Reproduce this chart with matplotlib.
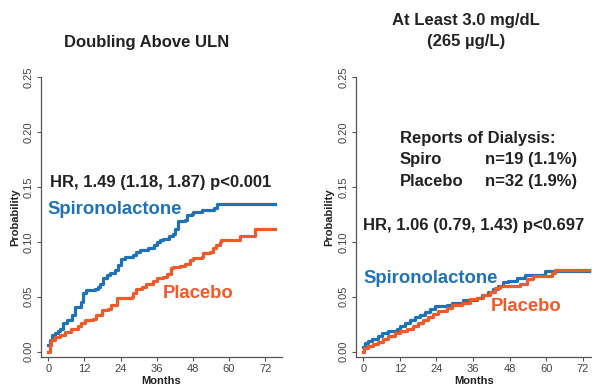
import matplotlib
matplotlib.use("Agg")
import matplotlib.pyplot as plt

plt.rcParams['font.family'] = ['Liberation Sans', 'DejaVu Sans']

BLUE = '#1f72b8'
ORANGE = '#f05a28'
DARK = '#222222'

# ---- Data: left panel (Doubling Above ULN) ----
left_spiro_t = [0, 0.5, 1.1, 2.2, 3.3, 3.9, 5.0, 6.1, 8.0, 8.8, 11.0, 11.6, 12.7, 15.5, 16.6, 17.1, 18.2, 19.4, 20.5, 22.0, 23.0, 24.0, 25.4, 28.0, 29.3, 30.4, 33.0, 35.0, 36.0, 37.0, 38.0, 40.0, 41.5, 42.0, 43.0, 45.4, 46.0, 47.6, 48.0, 51.0, 55.0, 56.0, 75.2]
left_spiro_p = [0.006, 0.0106, 0.015, 0.017, 0.019, 0.021, 0.026, 0.029, 0.033, 0.041, 0.045, 0.053, 0.056, 0.057, 0.059, 0.062, 0.067, 0.070, 0.072, 0.074, 0.079, 0.084, 0.0865, 0.088, 0.091, 0.093, 0.094, 0.097, 0.100, 0.102, 0.103, 0.105, 0.107, 0.112, 0.119, 0.120, 0.124, 0.125, 0.1275, 0.129, 0.1305, 0.1345, 0.1345]
left_plac_t = [0, 0.5, 1.0, 2.2, 3.9, 5.5, 7.7, 10.0, 11.0, 12.2, 15.0, 16.0, 17.7, 20.0, 21.0, 22.7, 27.7, 28.2, 29.3, 31.0, 32.6, 34.8, 36.0, 38.0, 39.3, 40.6, 41.5, 43.7, 45.4, 47.0, 48.0, 51.0, 51.4, 53.6, 54.8, 55.8, 57.0, 57.5, 63.6, 68.6, 75.2]
left_plac_p = [0.0, 0.006, 0.011, 0.013, 0.015, 0.018, 0.021, 0.023, 0.026, 0.029, 0.030, 0.033, 0.038, 0.039, 0.0425, 0.0485, 0.0495, 0.053, 0.057, 0.059, 0.062, 0.064, 0.067, 0.068, 0.071, 0.076, 0.0775, 0.078, 0.080, 0.0835, 0.085, 0.0865, 0.0895, 0.091, 0.094, 0.097, 0.100, 0.1017, 0.105, 0.1115, 0.1115]

# ---- Data: right panel (At Least 3.0 mg/dL) ----
right_spiro_t = [0, 0.5, 1.6, 2.7, 4.9, 6.0, 8.2, 11.0, 12.0, 13.7, 15.3, 17.0, 18.6, 20.2, 21.9, 23.5, 27.4, 29.0, 32.8, 37.2, 38.8, 41.0, 42.7, 44.3, 45.9, 47.6, 50.3, 53.0, 59.6, 74.2]
right_spiro_p = [0.004, 0.0076, 0.010, 0.012, 0.014, 0.0167, 0.019, 0.021, 0.023, 0.026, 0.029, 0.032, 0.033, 0.036, 0.039, 0.0415, 0.0425, 0.0446, 0.047, 0.0485, 0.0516, 0.0546, 0.057, 0.060, 0.063, 0.0646, 0.067, 0.070, 0.073, 0.073]
right_plac_t = [0, 0.3, 1.6, 3.3, 4.9, 6.6, 8.2, 10.4, 12.0, 14.2, 16.4, 18.0, 19.7, 21.3, 23.0, 24.6, 27.4, 29.0, 32.3, 35.0, 37.2, 39.4, 41.6, 43.2, 44.9, 51.4, 53.6, 55.8, 61.8, 62.9, 74.2]
right_plac_p = [0.0, 0.003, 0.005, 0.007, 0.009, 0.012, 0.014, 0.0167, 0.019, 0.021, 0.023, 0.026, 0.029, 0.032, 0.034, 0.037, 0.040, 0.0425, 0.0446, 0.0476, 0.049, 0.0516, 0.0546, 0.0576, 0.060, 0.062, 0.066, 0.069, 0.072, 0.0743, 0.0743]

x_ticks = [0, 12, 24, 36, 48, 60, 72]
y_ticks = [0.00, 0.05, 0.10, 0.15, 0.20, 0.25]
y_ticklabels = ['0.00', '0.05', '0.10', '0.15', '0.20', '0.25']

W, H = 592, 389
fig = plt.figure(figsize=(W / 100, H / 100), dpi=100)


def px_axes(x0, y_top, x1, y_bot):
    return [x0 / W, 1 - y_bot / H, (x1 - x0) / W, (y_bot - y_top) / H]


def style(ax, xlim):
    ax.set_xlim(*xlim)
    ax.set_ylim(-0.0051, 0.25)
    for s in ['top', 'right']:
        ax.spines[s].set_visible(False)
    for s in ['left', 'bottom']:
        ax.spines[s].set_color('#555555')
        ax.spines[s].set_linewidth(0.9)
    ax.set_xticks(x_ticks)
    ax.set_yticks(y_ticks)
    ax.set_yticklabels(y_ticklabels, rotation=90, va='center')
    ax.tick_params(axis='both', direction='out', length=3, width=0.8,
                   colors='#555555', labelcolor='#444444', labelsize=8, pad=2)
    ax.set_xlabel('Months', fontsize=8, fontweight='bold', color=DARK, labelpad=1)
    ax.set_ylabel('Probability', fontsize=8, fontweight='bold', color=DARK, labelpad=3)
    ax.patch.set_alpha(0)


# Left panel
ax1 = fig.add_axes(px_axes(41, 77, 281.7, 357.3))
style(ax1, (-2.4, 77.5))
ax1.step(left_spiro_t, left_spiro_p, where='post', color=BLUE, lw=2.3)
ax1.step(left_plac_t, left_plac_p, where='post', color=ORANGE, lw=2.3)
ax1.text(0.6, 0.154, 'HR, 1.49 (1.18, 1.87) p<0.001', fontsize=12, fontweight='bold',
         color=DARK, va='center', ha='left')
ax1.text(-0.1, 0.129, 'Spironolactone', fontsize=13.3, fontweight='bold',
         color=BLUE, va='center', ha='left')
ax1.text(38.1, 0.0526, 'Placebo', fontsize=13.3, fontweight='bold',
         color=ORANGE, va='center', ha='left')

# Right panel
ax2 = fig.add_axes(px_axes(355.7, 77, 592, 357.3))
style(ax2, (-2.5, 75.06))
ax2.step(right_spiro_t, right_spiro_p, where='post', color=BLUE, lw=2.3)
ax2.step(right_plac_t, right_plac_p, where='post', color=ORANGE, lw=2.3)
ax2.text(12.0, 0.1936, 'Reports of Dialysis:', fontsize=12, fontweight='bold',
         color=DARK, va='center', ha='left')
ax2.text(12.0, 0.1745, 'Spiro', fontsize=12, fontweight='bold',
         color=DARK, va='center', ha='left')
ax2.text(39.9, 0.1745, 'n=19 (1.1%)', fontsize=12, fontweight='bold',
         color=DARK, va='center', ha='left')
ax2.text(12.0, 0.1547, 'Placebo', fontsize=12, fontweight='bold',
         color=DARK, va='center', ha='left')
ax2.text(39.9, 0.1547, 'n=32 (1.9%)', fontsize=12, fontweight='bold',
         color=DARK, va='center', ha='left')
ax2.text(-0.2, 0.1147, 'HR, 1.06 (0.79, 1.43) p<0.697', fontsize=12, fontweight='bold',
         color=DARK, va='center', ha='left')
ax2.text(0.0, 0.067, 'Spironolactone', fontsize=13.3, fontweight='bold',
         color=BLUE, va='center', ha='left')
ax2.text(41.8, 0.041, 'Placebo', fontsize=13.3, fontweight='bold',
         color=ORANGE, va='center', ha='left')

# Titles
fig.text(146.7 / W, 1 - 43 / H, 'Doubling Above ULN', fontsize=12, fontweight='bold',
         color=DARK, ha='center', va='center')
fig.text(465.8 / W, 1 - 20 / H, 'At Least 3.0 mg/dL', fontsize=12, fontweight='bold',
         color=DARK, ha='center', va='center')
fig.text(465.8 / W, 1 - 41.7 / H, '(265 µg/L)', fontsize=12, fontweight='bold',
         color=DARK, ha='center', va='center')

fig.savefig('out.png', dpi=100)
